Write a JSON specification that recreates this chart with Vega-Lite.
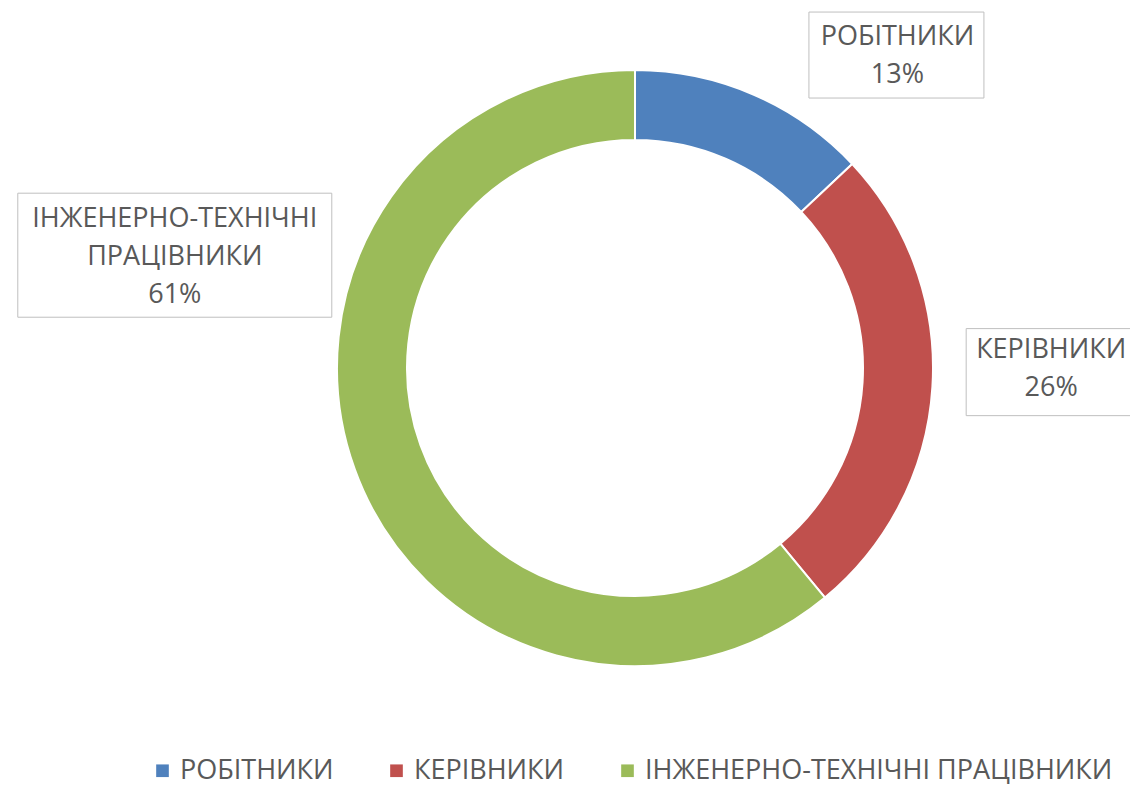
{
  "$schema": "https://vega.github.io/schema/vega-lite/v6.json",
  "width": 972,
  "height": 736,
  "padding": {"left": 149, "top": 0, "right": 9, "bottom": 49},
  "autosize": {"type": "none"},
  "background": "white",
  "config": {"view": {"stroke": null}, "font": "Open Sans"},
  "data": {
    "values": [
      {"category": "РОБІТНИКИ", "order": 1, "value": 13, "label": ["РОБІТНИКИ", "13%"]},
      {"category": "КЕРІВНИКИ", "order": 2, "value": 26, "label": ["КЕРІВНИКИ", "26%"]},
      {"category": "ІНЖЕНЕРНО-ТЕХНІЧНІ ПРАЦІВНИКИ", "order": 3, "value": 61, "label": ["ІНЖЕНЕРНО-ТЕХНІЧНІ", "ПРАЦІВНИКИ", "61%"]}
    ]
  },
  "transform": [
    {"window": [{"op": "sum", "field": "value", "as": "cum"}], "sort": [{"field": "order"}], "frame": [null, 0]},
    {"joinaggregate": [{"op": "sum", "field": "value", "as": "total"}]},
    {"calculate": "2*PI*(datum.cum - datum.value/2)/datum.total", "as": "mid"}
  ],
  "layer": [
    {
      "mark": {"type": "arc", "outerRadius": 298, "innerRadius": 228, "stroke": "white", "strokeWidth": 2},
      "encoding": {
        "theta": {"field": "value", "type": "quantitative", "stack": true},
        "order": {"field": "order", "type": "quantitative"},
        "color": {
          "field": "category",
          "type": "nominal",
          "scale": {"domain": ["РОБІТНИКИ", "КЕРІВНИКИ", "ІНЖЕНЕРНО-ТЕХНІЧНІ ПРАЦІВНИКИ"], "range": ["#4F81BD", "#C0504D", "#9BBB59"]},
          "legend": {
            "orient": "bottom",
            "direction": "horizontal",
            "title": null,
            "symbolType": "square",
            "symbolSize": 160,
            "symbolStrokeWidth": 0,
            "labelFontSize": 27,
            "labelColor": "#595959",
            "labelFont": "Open Sans",
            "labelLimit": 700,
            "columnPadding": 49,
            "labelOffset": 4,
            "offset": 21
          }
        }
      }
    },
    {
      "transform": [
        {"filter": "datum.order == 1"},
        {"calculate": "341*sin(datum.mid)", "as": "lx"},
        {"calculate": "341*cos(datum.mid)", "as": "ly"}
      ],
      "layer": [
        {
          "mark": {"type": "point", "shape": "M-1,-0.4914H1V0.4914H-1Z", "size": 30625, "fill": "white", "stroke": "#BFBFBF", "strokeWidth": 1, "opacity": 1, "filled": false, "fillOpacity": 1, "xOffset": 126},
          "encoding": {
            "x": {"field": "lx", "type": "quantitative", "scale": {"domain": [-486, 486], "nice": false, "zero": false}, "axis": null},
            "y": {"field": "ly", "type": "quantitative", "scale": {"domain": [-368, 368], "nice": false, "zero": false}, "axis": null}
          }
        },
        {
          "mark": {"type": "text", "align": "center", "baseline": "middle", "lineHeight": 38, "fontSize": 27, "color": "#595959", "xOffset": 127, "yOffset": -18},
          "encoding": {
            "x": {"field": "lx", "type": "quantitative"},
            "y": {"field": "ly", "type": "quantitative"},
            "text": {"field": "label"}
          }
        }
      ]
    },
    {
      "transform": [
        {"filter": "datum.order == 2"},
        {"calculate": "416*sin(datum.mid)", "as": "lx"},
        {"calculate": "416*cos(datum.mid)", "as": "ly"}
      ],
      "layer": [
        {
          "mark": {"type": "point", "shape": "M-1,-0.512H1V0.512H-1Z", "size": 28900, "fill": "white", "stroke": "#BFBFBF", "strokeWidth": 1, "opacity": 1, "filled": false, "fillOpacity": 1, "xOffset": 1, "yOffset": -22},
          "encoding": {
            "x": {"field": "lx", "type": "quantitative"},
            "y": {"field": "ly", "type": "quantitative"}
          }
        },
        {
          "mark": {"type": "text", "align": "center", "baseline": "middle", "lineHeight": 38, "fontSize": 27, "color": "#595959", "xOffset": 1, "yOffset": -44},
          "encoding": {
            "x": {"field": "lx", "type": "quantitative"},
            "y": {"field": "ly", "type": "quantitative"},
            "text": {"field": "label"}
          }
        }
      ]
    },
    {
      "transform": [
        {"filter": "datum.order == 3"},
        {"calculate": "470*sin(datum.mid)", "as": "lx"},
        {"calculate": "470*cos(datum.mid)", "as": "ly"}
      ],
      "layer": [
        {
          "mark": {"type": "point", "shape": "M-1,-0.395H1V0.395H-1Z", "size": 98596, "fill": "white", "stroke": "#BFBFBF", "strokeWidth": 1, "opacity": 1, "filled": false, "fillOpacity": 1, "xOffset": -18, "yOffset": -272},
          "encoding": {
            "x": {"field": "lx", "type": "quantitative"},
            "y": {"field": "ly", "type": "quantitative"}
          }
        },
        {
          "mark": {"type": "text", "align": "center", "baseline": "middle", "lineHeight": 38, "fontSize": 27, "color": "#595959", "xOffset": -18, "yOffset": -308},
          "encoding": {
            "x": {"field": "lx", "type": "quantitative"},
            "y": {"field": "ly", "type": "quantitative"},
            "text": {"field": "label"}
          }
        }
      ]
    }
  ]
}
